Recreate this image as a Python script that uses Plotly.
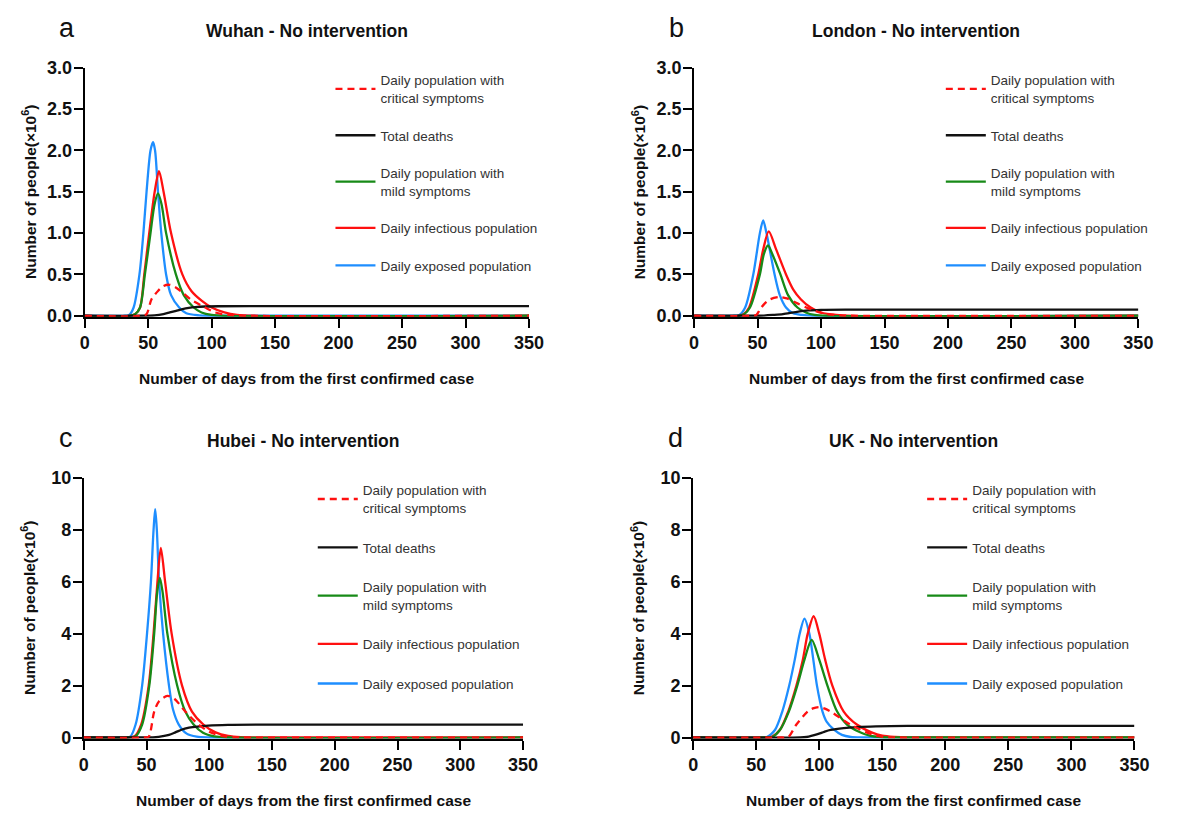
import plotly.graph_objects as go

# ---------------- data (values in millions of people) ----------------
X_TICKS = [0, 50, 100, 150, 200, 250, 300, 350]
Y_TICKS_TOP = [0.0, 0.5, 1.0, 1.5, 2.0, 2.5, 3.0]
Y_TICKS_BOTTOM = [0, 2, 4, 6, 8, 10]

PANEL_LETTERS = ["a", "b", "c", "d"]
PANEL_TITLES = ["Wuhan - No intervention", "London - No intervention",
                "Hubei - No intervention", "UK - No intervention"]
SERIES_NAMES = ["Daily population with<br>critical symptoms", "Total deaths",
                "Daily population with<br>mild symptoms", "Daily infectious population",
                "Daily exposed population"]

# Wuhan
WUHAN_EXPOSED_X = [0, 30, 35, 38.5, 43.1, 46.2, 48.7, 51.8, 53.8, 55.4, 57.7, 60.3, 64.1, 68, 74.4, 80, 90, 100, 350]
WUHAN_EXPOSED_Y = [0, 0, 0.01, 0.1, 0.5, 1.0, 1.5, 2.0, 2.1, 2.0, 1.5, 1.0, 0.5, 0.25, 0.1, 0.03, 0.005, 0, 0]
WUHAN_INFECT_X = [0, 35, 39.7, 43.6, 46.9, 50.8, 55.1, 58.5, 62.1, 68, 76.9, 84, 92.3, 100, 110, 120, 135, 350]
WUHAN_INFECT_Y = [0, 0, 0.02, 0.1, 0.5, 1.0, 1.5, 1.75, 1.5, 1.0, 0.5, 0.3, 0.18, 0.1, 0.04, 0.01, 0, 0]
WUHAN_MILD_X = [0, 35, 39.7, 43.6, 47.4, 51.8, 55, 57.7, 60.5, 64.1, 71.8, 78, 85.9, 92, 100, 110, 350]
WUHAN_MILD_Y = [0, 0, 0.02, 0.1, 0.5, 1.0, 1.35, 1.48, 1.35, 1.0, 0.5, 0.25, 0.1, 0.04, 0.01, 0, 0]
WUHAN_CRIT_X = [0, 45, 48.7, 52.6, 57.7, 62, 66.7, 71, 75.6, 83.3, 94.9, 103, 113, 125, 350]
WUHAN_CRIT_Y = [0, 0, 0.02, 0.2, 0.3, 0.36, 0.375, 0.35, 0.3, 0.2, 0.1, 0.04, 0.01, 0, 0]
WUHAN_DEATH_X = [0, 45, 55, 62, 67, 72, 77, 82, 87, 95, 105, 130, 350]
WUHAN_DEATH_Y = [0, 0, 0.005, 0.02, 0.04, 0.06, 0.08, 0.095, 0.105, 0.112, 0.115, 0.117, 0.117]

# London
LONDON_EXPOSED_X = [0, 30, 35.6, 40.2, 46.6, 51.8, 54.4, 57, 63.4, 67.5, 72.4, 78, 85, 95, 350]
LONDON_EXPOSED_Y = [0, 0, 0.01, 0.1, 0.5, 1.0, 1.155, 1.0, 0.5, 0.25, 0.1, 0.03, 0.01, 0, 0]
LONDON_INFECT_X = [0, 35, 39, 43.3, 50.5, 54.4, 58.8, 64.7, 72.4, 78, 84, 91.8, 100, 112, 125, 350]
LONDON_INFECT_Y = [0, 0, 0.02, 0.1, 0.5, 0.8, 1.02, 0.8, 0.5, 0.32, 0.2, 0.1, 0.04, 0.01, 0, 0]
LONDON_MILD_X = [0, 35, 39.5, 44, 51.8, 55, 58.2, 61.5, 68, 74, 81.4, 88, 95, 105, 350]
LONDON_MILD_Y = [0, 0, 0.02, 0.1, 0.5, 0.75, 0.85, 0.75, 0.5, 0.25, 0.1, 0.04, 0.01, 0, 0]
LONDON_CRIT_X = [0, 45, 49, 52, 55.7, 60, 67.3, 73, 81.4, 90, 97, 105, 115, 125, 350]
LONDON_CRIT_Y = [0, 0, 0.01, 0.08, 0.15, 0.2, 0.227, 0.21, 0.15, 0.09, 0.05, 0.02, 0.005, 0, 0]
LONDON_DEATH_X = [0, 48, 55, 62, 70, 80, 90, 100, 120, 350]
LONDON_DEATH_Y = [0, 0, 0.003, 0.01, 0.02, 0.045, 0.065, 0.072, 0.075, 0.075]

# Hubei
HUBEI_EXPOSED_X = [0, 30, 37, 41.3, 46.5, 50.4, 53.5, 55.6, 56.9, 58.2, 60, 63.2, 67.9, 71, 75.7, 82, 90, 100, 350]
HUBEI_EXPOSED_Y = [0, 0, 0.03, 0.5, 2, 4, 6, 8, 8.8, 8, 6, 4, 2, 1.1, 0.5, 0.15, 0.03, 0, 0]
HUBEI_INFECT_X = [0, 35, 40.5, 45.7, 51.7, 55.6, 58.7, 61.4, 64.8, 70, 78.3, 86.2, 95.3, 105, 115, 125, 140, 350]
HUBEI_INFECT_Y = [0, 0, 0.05, 0.5, 2, 4, 6, 7.3, 6, 4, 2, 1, 0.5, 0.2, 0.06, 0.01, 0, 0]
HUBEI_MILD_X = [0, 35, 41.3, 46.5, 52.2, 56.1, 58.5, 60.6, 62.8, 66.6, 74.4, 80.9, 87.5, 95, 104, 115, 350]
HUBEI_MILD_Y = [0, 0, 0.05, 0.5, 2, 4, 5.6, 6.15, 5.6, 4, 2, 1, 0.5, 0.18, 0.04, 0, 0]
HUBEI_CRIT_X = [0, 48, 51.7, 56.1, 60, 66.6, 72, 80.9, 91.4, 100, 110, 120, 130, 350]
HUBEI_CRIT_Y = [0, 0, 0.03, 1.0, 1.4, 1.6, 1.5, 1.0, 0.5, 0.22, 0.06, 0.01, 0, 0]
HUBEI_DEATH_X = [0, 50, 57.4, 63, 67.9, 73, 78.3, 83, 88.8, 99.2, 115, 140, 350]
HUBEI_DEATH_Y = [0, 0, 0.01, 0.05, 0.1, 0.2, 0.31, 0.37, 0.41, 0.46, 0.49, 0.5, 0.5]

# UK
UK_EXPOSED_X = [0, 50, 58.5, 65, 70.7, 76.2, 80.6, 84.5, 88.3, 92.2, 95.3, 98.2, 102.6, 106, 111.7, 118, 125, 135, 350]
UK_EXPOSED_Y = [0, 0, 0.02, 0.3, 1, 2, 3, 4, 4.58, 4, 3, 2, 1, 0.6, 0.3, 0.1, 0.02, 0, 0]
UK_INFECT_X = [0, 55, 62.4, 68.9, 75.4, 81.9, 87, 90.9, 95.6, 100, 104.7, 110.4, 119.4, 129.8, 141.5, 150, 160, 170, 350]
UK_INFECT_Y = [0, 0, 0.03, 0.3, 1, 2, 3, 4, 4.67, 4, 3, 2, 1, 0.5, 0.2, 0.07, 0.02, 0, 0]
UK_MILD_X = [0, 55, 63, 68.9, 75.9, 82.6, 88.3, 94, 100, 106.5, 114.2, 122, 132.4, 140, 150, 160, 350]
UK_MILD_Y = [0, 0, 0.03, 0.3, 1, 2, 3, 3.76, 3, 2, 1, 0.5, 0.2, 0.07, 0.01, 0, 0]
UK_CRIT_X = [0, 70, 75.4, 81.9, 90.9, 95, 100, 104, 109, 124.6, 137.6, 145, 155, 165, 350]
UK_CRIT_Y = [0, 0, 0.02, 0.5, 1.0, 1.12, 1.17, 1.12, 1.0, 0.5, 0.2, 0.07, 0.01, 0, 0]
UK_DEATH_X = [0, 85, 90, 98.7, 104, 109, 119.4, 129.8, 145, 170, 350]
UK_DEATH_Y = [0, 0, 0.02, 0.13, 0.22, 0.29, 0.36, 0.40, 0.43, 0.45, 0.45]

# ---------------- styling / layout ----------------
PAGE_W, PAGE_H = 1183, 820
BODY_MARGIN = 8  # default page margin around the figure div
W, H = PAGE_W - 2 * BODY_MARGIN, PAGE_H - 2 * BODY_MARGIN
FONT = "Liberation Sans, Arial, Helvetica, sans-serif"
BLUE, RED, GREEN, BLACK = "#1E8EFF", "#FF1010", "#178A17", "#111111"
LW = 2.3


def px_x(p):
    return (p - BODY_MARGIN) / W


def px_y(p):
    return 1 - (p - BODY_MARGIN) / H


panels = [
    dict(data=[(WUHAN_CRIT_X, WUHAN_CRIT_Y), (WUHAN_DEATH_X, WUHAN_DEATH_Y), (WUHAN_MILD_X, WUHAN_MILD_Y),
               (WUHAN_INFECT_X, WUHAN_INFECT_Y), (WUHAN_EXPOSED_X, WUHAN_EXPOSED_Y)],
         x0=81, x1=533, yt=59, yb=314, ymax=3.0, yticks=Y_TICKS_TOP, fmt=".1f", leg=(331, 56), gap=17),
    dict(data=[(LONDON_CRIT_X, LONDON_CRIT_Y), (LONDON_DEATH_X, LONDON_DEATH_Y), (LONDON_MILD_X, LONDON_MILD_Y),
               (LONDON_INFECT_X, LONDON_INFECT_Y), (LONDON_EXPOSED_X, LONDON_EXPOSED_Y)],
         x0=701, x1=1153, yt=59, yb=314, ymax=3.0, yticks=Y_TICKS_TOP, fmt=".1f", leg=(952, 56), gap=17),
    dict(data=[(HUBEI_CRIT_X, HUBEI_CRIT_Y), (HUBEI_DEATH_X, HUBEI_DEATH_Y), (HUBEI_MILD_X, HUBEI_MILD_Y),
               (HUBEI_INFECT_X, HUBEI_INFECT_Y), (HUBEI_EXPOSED_X, HUBEI_EXPOSED_Y)],
         x0=80, x1=527, yt=479, yb=746, ymax=10, yticks=Y_TICKS_BOTTOM, fmt="d", leg=(313, 476), gap=19),
    dict(data=[(UK_CRIT_X, UK_CRIT_Y), (UK_DEATH_X, UK_DEATH_Y), (UK_MILD_X, UK_MILD_Y),
               (UK_INFECT_X, UK_INFECT_Y), (UK_EXPOSED_X, UK_EXPOSED_Y)],
         x0=700, x1=1149, yt=479, yb=746, ymax=10, yticks=Y_TICKS_BOTTOM, fmt="d", leg=(933, 476), gap=19),
]

# style per series index (critical, deaths, mild, infectious, exposed)
styles = [
    dict(color=RED, dash="7px,5px"),
    dict(color=BLACK, dash="solid"),
    dict(color=GREEN, dash="solid"),
    dict(color=RED, dash="solid"),
    dict(color=BLUE, dash="solid"),
]

fig = go.Figure()
layout = dict(width=W, height=H, margin=dict(l=0, r=0, t=0, b=0),
              paper_bgcolor="white", plot_bgcolor="white",
              font=dict(family=FONT, color="#111"), showlegend=True)
annotations = []

for i, p in enumerate(panels):
    n = "" if i == 0 else str(i + 1)
    xa, ya = "x" + n, "y" + n
    legname = "legend" + n
    order = [4, 3, 2, 1, 0]  # drawing order: exposed, infectious, mild, deaths, critical
    for k in order:
        xs, ys = p["data"][k]
        st = styles[k]
        fig.add_trace(go.Scatter(
            x=xs, y=ys, mode="lines", name=SERIES_NAMES[k],
            line=dict(color=st["color"], width=LW, dash=st["dash"], shape="spline", smoothing=0.8),
            xaxis=xa, yaxis=ya, legend=legname, legendrank=k + 1, legendgroup=f"g{i}_{k}",
            hoverinfo="skip"))
    ax_common = dict(showgrid=False, zeroline=False, showline=True, linewidth=2, linecolor="black",
                     ticks="outside", ticklen=9, tickwidth=2, tickcolor="black",
                     tickfont=dict(family=FONT, size=18, color="#111", weight="bold"),
                     layer="below traces", fixedrange=True)
    layout["xaxis" + n] = dict(ax_common, domain=[px_x(p["x0"]), px_x(p["x1"])], anchor=ya,
                               range=[0, 350], tickvals=X_TICKS)
    pad = p["ymax"] * 0.004
    layout["yaxis" + n] = dict(ax_common, domain=[px_y(p["yb"]), px_y(p["yt"])], anchor=xa,
                               range=[-pad, p["ymax"]], tickvals=p["yticks"], tickformat=p["fmt"],
                               ticklabelstandoff=-2)
    layout[legname] = dict(x=px_x(p["leg"][0]), y=px_y(p["leg"][1]), xanchor="left", yanchor="top",
                           bgcolor="rgba(0,0,0,0)", borderwidth=0, traceorder="grouped",
                           tracegroupgap=p["gap"], font=dict(family=FONT, size=13.5, color="#333"),
                           itemwidth=40, valign="middle")
    cx = (p["x0"] + p["x1"]) / 2
    cy = (p["yt"] + p["yb"]) / 2
    top_off = p["yt"] - 59
    annotations += [
        dict(text=PANEL_LETTERS[i], x=px_x(p["x0"] - 18), y=px_y(18 + top_off),
             xref="paper", yref="paper", showarrow=False, xanchor="center", yanchor="middle",
             font=dict(family=FONT, size=27, color="#111")),
        dict(text="<b>" + PANEL_TITLES[i] + "</b>", x=px_x(cx), y=px_y(21.5 + top_off),
             xref="paper", yref="paper", showarrow=False, xanchor="center", yanchor="middle",
             font=dict(family=FONT, size=17.5, color="#111")),
        dict(text="<b>Number of days from the first confirmed case</b>", x=px_x(cx),
             y=px_y(p["yb"] + 63), xref="paper", yref="paper", showarrow=False,
             xanchor="center", yanchor="middle", font=dict(family=FONT, size=15.5, color="#111")),
        dict(text="<b>Number of people(×10<sup>6</sup>)</b>", x=px_x(p["x0"] - 56), y=px_y(cy),
             xref="paper", yref="paper", showarrow=False, textangle=-90,
             xanchor="center", yanchor="middle", font=dict(family=FONT, size=15.5, color="#111")),
    ]

layout["annotations"] = annotations
fig.update_layout(**layout)
fig.write_html("out.html")
